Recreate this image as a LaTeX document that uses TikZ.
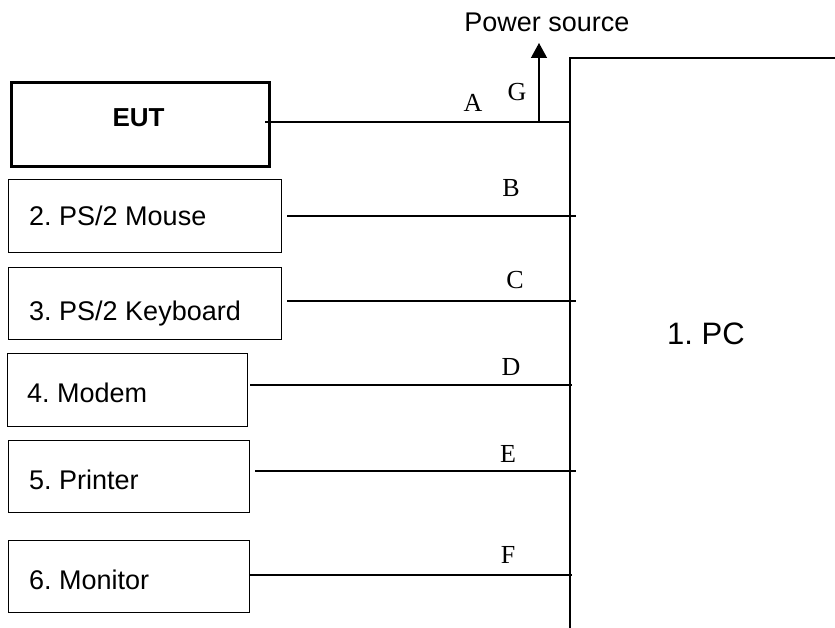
\documentclass[tikz,border=0pt]{standalone}
\usepackage{fontspec}
\setmainfont{Liberation Sans}
\newfontfamily\lblfont{Liberation Serif}
\usetikzlibrary{arrows.meta}
\frenchspacing
\begin{document}
\begin{tikzpicture}[x=1pt,y=-1pt,
  devbox/.style={draw,line width=1.3pt,inner sep=0pt,anchor=north west},
  devtext/.style={anchor=base west,inner sep=0pt,font=\fontsize{27}{31}\selectfont},
  letter/.style={anchor=base,inner sep=0pt,font=\lblfont\fontsize{26}{30}\selectfont},
  cable/.style={line width=1.3pt},
  pcline/.style={line width=1.5pt}]
\useasboundingbox (0,0) rectangle (835,628);

% PC
\coordinate (pctr) at (835,58);
\coordinate (pctl) at (570,58);
\coordinate (pcbl) at (570,628);
\draw[pcline] (pctr) -- (pctl) -- (pcbl);
\node[anchor=base,inner sep=0pt,font=\fontsize{31}{35}\selectfont] (pc) at (706,344) {1. PC};

% devices
\node[devbox,line width=3pt,minimum width=258pt,minimum height=84pt] (eut) at (10,81) {};
\node[anchor=base,inner sep=0pt,font=\bfseries\fontsize{26}{30}\selectfont] (eutt) at (138.5,127) {EUT};

\node[devbox,minimum width=273pt,minimum height=73pt] (mouse) at (8,179) {};
\node[devtext] (mouset) at (29,226) {2. PS/2 Mouse};

\node[devbox,minimum width=273pt,minimum height=72pt] (kbd) at (8,267) {};
\node[devtext] (kbdt) at (29,320) {3. PS/2 Keyboard};

\node[devbox,minimum width=240pt,minimum height=73pt] (modem) at (7,353) {};
\node[devtext] (modemt) at (27,402) {4. Modem};

\node[devbox,minimum width=241pt,minimum height=72pt] (prn) at (8,440) {};
\node[devtext] (prnt) at (29,489) {5. Printer};

\node[devbox,minimum width=241pt,minimum height=72pt] (mon) at (8,540) {};
\node[devtext] (mont) at (29,589) {6. Monitor};

% cable end points
\coordinate (aS) at (265,122);  \coordinate (aE) at (570,122);
\coordinate (bS) at (287,216);  \coordinate (bE) at (576,216);
\coordinate (cS) at (287,301);  \coordinate (cE) at (576,301);
\coordinate (dS) at (250,385);  \coordinate (dE) at (572,385);
\coordinate (eS) at (255,471);  \coordinate (eE) at (576,471);
\coordinate (fS) at (250,575);  \coordinate (fE) at (572,575);

\draw[cable] (aS) -- (aE);
\draw[cable] (bS) -- (bE);
\draw[cable,line width=1.6pt] (cS) -- (cE);
\draw[cable,line width=1.6pt] (dS) -- (dE);
\draw[cable,line width=1.6pt] (eS) -- (eE);
\draw[cable] (fS) -- (fE);

% power
\coordinate (gS) at (539,122);
\coordinate (gE) at (539,43);
\draw[cable,-{Triangle[width=16pt,length=15pt]}] (gS) -- (gE);
\node[anchor=base,inner sep=0pt,font=\fontsize{27}{31}\selectfont] (pwr) at (547,32) {Power source};

% letters
\node[letter] (la) at (473,111.5) {A};
\node[letter] (lg) at (517,101) {G};
\node[letter] (lb) at (511,197) {B};
\node[letter] (lc) at (515,289) {C};
\node[letter] (ld) at (511,375) {D};
\node[letter] (le) at (508,462) {E};
\node[letter] (lf) at (508,563) {F};
\end{tikzpicture}
\end{document}
